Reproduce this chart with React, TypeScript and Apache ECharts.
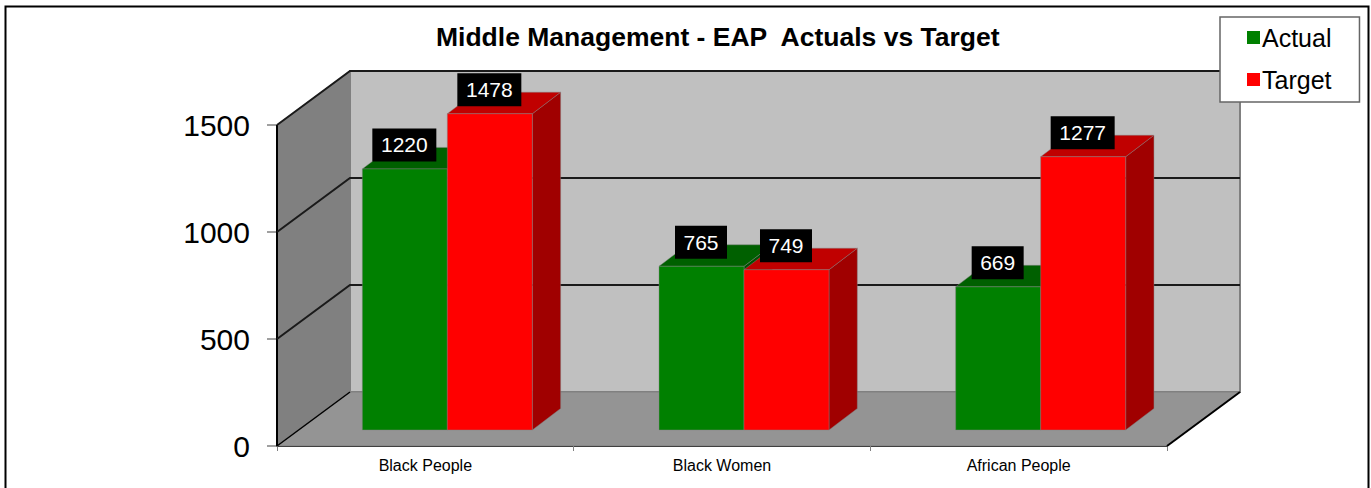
import React, { useEffect, useRef } from "react";
import * as echarts from "echarts";

const categories = ["Black People", "Black Women", "African People"];
const actualValues = [1220, 765, 669];
const targetValues = [1478, 749, 1277];
const gridTicks = [500, 1000, 1500];

const DEPTH_X = 73;
const DEPTH_Y = 54;
const FRONT_X = 22;
const FRONT_Y = 16;
const BAR_DX = 28.3;
const BAR_DY = 21.5;
const BAR_RATIO = 85 / 296.67;

function wallsItem(params: any, api: any) {
  const tick = api.value(0);
  const [x0, y0] = api.coord([0, 0]);
  const cw = api.size([1, 0])[0];
  const left = x0 - cw / 2;
  const right = left + cw * categories.length;
  const bottom = y0;
  const topY = api.coord([0, 1500])[1];
  const bx = DEPTH_X;
  const by = DEPTH_Y;
  const children: any[] = [];
  if (params.dataIndex === 0) {
    children.push(
      { type: "polygon", shape: { points: [[left + bx, topY - by], [right + bx, topY - by], [right + bx, bottom - by], [left + bx, bottom - by]] }, style: { fill: "#c0c0c0", stroke: "#808080", lineWidth: 2 } },
      { type: "polygon", shape: { points: [[left, topY], [left + bx, topY - by], [left + bx, bottom - by], [left, bottom]] }, style: { fill: "#808080", stroke: "#808080", lineWidth: 1 } },
      { type: "polygon", shape: { points: [[left, bottom], [left + bx, bottom - by], [right + bx, bottom - by], [right, bottom]] }, style: { fill: "#949494", stroke: "#808080", lineWidth: 1 } },
      { type: "line", shape: { x1: left, y1: bottom, x2: left + bx, y2: bottom - by }, style: { stroke: "#000", lineWidth: 1.5 } },
      { type: "line", shape: { x1: right, y1: bottom, x2: right + bx, y2: bottom - by }, style: { stroke: "#000", lineWidth: 2 } },
      { type: "line", shape: { x1: left, y1: bottom, x2: left, y2: topY }, style: { stroke: "#000", lineWidth: 2 } }
    );
  }
  const y = api.coord([0, tick])[1];
  children.push(
    { type: "polyline", shape: { points: [[left, y], [left + bx, y - by], [right + bx, y - by]] }, style: { fill: "none", stroke: "#1a1a1a", lineWidth: 2 } }
  );
  return { type: "group", children };
}

function barItem(colors: { front: string; top: string; side: string }, slot: number) {
  return (_params: any, api: any) => {
    const cat = api.value(0);
    const val = api.value(1);
    const [cx, y0] = api.coord([cat, 0]);
    const yTop = api.coord([cat, val])[1];
    const cw = api.size([1, 0])[0];
    const w = cw * BAR_RATIO;
    const xL = cx + FRONT_X - w + slot * w;
    const xR = xL + w;
    const yB = y0 - FRONT_Y;
    const yT = yTop - FRONT_Y;
    const boxW = String(val).length > 3 ? 64 : 52;
    const boxH = 33;
    const gap = 7.5;
    const mid = (xL + xR) / 2 - 0.5;
    const edge = "rgba(128,128,128,0.45)";
    return {
      type: "group",
      children: [
        { type: "polygon", shape: { points: [[xR, yB], [xR + BAR_DX, yB - BAR_DY], [xR + BAR_DX, yT - BAR_DY], [xR, yT]] }, style: { fill: colors.side, stroke: edge, lineWidth: 1 } },
        { type: "polygon", shape: { points: [[xL, yT], [xL + BAR_DX, yT - BAR_DY], [xR + BAR_DX, yT - BAR_DY], [xR, yT]] }, style: { fill: colors.top, stroke: edge, lineWidth: 1 } },
        { type: "rect", shape: { x: xL, y: yT, width: w, height: yB - yT }, style: { fill: colors.front, stroke: edge, lineWidth: 1 } },
        { type: "rect", shape: { x: mid - boxW / 2, y: yT - gap - boxH, width: boxW, height: boxH }, style: { fill: "#000" } },
        { type: "text", x: mid, y: yT - gap - boxH / 2, style: { text: String(val), fill: "#fff", font: '21px "Liberation Sans", Arial, sans-serif', align: "center", verticalAlign: "middle" } },
      ],
    };
  };
}

export default function App() {
  const ref = useRef<HTMLDivElement>(null);
  useEffect(() => {
    document.body.style.margin = "0";
    const chart = echarts.init(ref.current!, null, { renderer: "svg" });
    chart.setOption({
      animation: false,
      backgroundColor: "#fff",
      title: {
        text: "Middle Management - EAP  Actuals vs Target",
        left: 431,
        top: 18,
        textStyle: { fontFamily: '"Liberation Sans", Arial, sans-serif', fontWeight: "bold", fontSize: 26.5, color: "#000" },
      },
      legend: {
        orient: "vertical",
        left: 1220,
        top: 17,
        padding: [8, 28, 10, 27],
        itemGap: 17,
        itemWidth: 13,
        itemHeight: 13,
        icon: "rect",
        backgroundColor: "#fff",
        borderColor: "#666",
        borderWidth: 1.5,
        z: 20,
        itemStyle: { borderWidth: 0 },
        textStyle: { fontFamily: '"Liberation Sans", Arial, sans-serif', fontSize: 25, color: "#000", padding: [0, 0, 0, -3] },
        data: ["Actual", "Target"],
      },
      graphic: [
        { type: "rect", z: -1, shape: { x: 5.5, y: 6.5, width: 1363, height: 520 }, style: { fill: "#fff", stroke: "#000", lineWidth: 2 } },
      ],
      grid: { left: 277, right: 1371 - 1167, top: 125, bottom: 488 - 446, containLabel: false },
      xAxis: {
        type: "category",
        data: categories,
        axisLine: { show: true, lineStyle: { color: "#000", width: 2 } },
        axisTick: { show: true, length: 5, alignWithLabel: false, lineStyle: { color: "#808080" } },
        axisLabel: { fontFamily: '"Liberation Sans", Arial, sans-serif', fontSize: 16, color: "#000", margin: 11 },
      },
      yAxis: {
        type: "value",
        min: 0,
        max: 1500,
        interval: 500,
        axisLine: { show: false },
        axisTick: { show: true, length: 10, lineStyle: { color: "#808080", width: 1.5 } },
        splitLine: { show: false },
        axisLabel: {
          formatter: (v: number) => String(v),
          fontFamily: '"Liberation Sans", Arial, sans-serif',
          fontSize: 30,
          color: "#000",
          margin: 27,
          padding: [3, 0, 0, 0],
        },
      },
      series: [
        {
          type: "custom",
          name: "walls",
          coordinateSystem: "cartesian2d",
          renderItem: wallsItem,
          data: gridTicks.map((t) => [t]),
          encode: { y: 0 },
          silent: true,
          z: 1,
        },
        {
          type: "custom",
          name: "Actual",
          renderItem: barItem({ front: "#008000", top: "#006000", side: "#005000" }, 0),
          data: actualValues.map((v, i) => [i, v]),
          encode: { x: 0, y: 1 },
          itemStyle: { color: "#008000" },
          z: 3,
        },
        {
          type: "custom",
          name: "Target",
          renderItem: barItem({ front: "#ff0000", top: "#c00000", side: "#a00000" }, 1),
          data: targetValues.map((v, i) => [i, v]),
          encode: { x: 0, y: 1 },
          itemStyle: { color: "#ff0000" },
          z: 4,
        },
      ],
    });
    return () => chart.dispose();
  }, []);
  return <div ref={ref} style={{ width: 1371, height: 488 }} />;
}
